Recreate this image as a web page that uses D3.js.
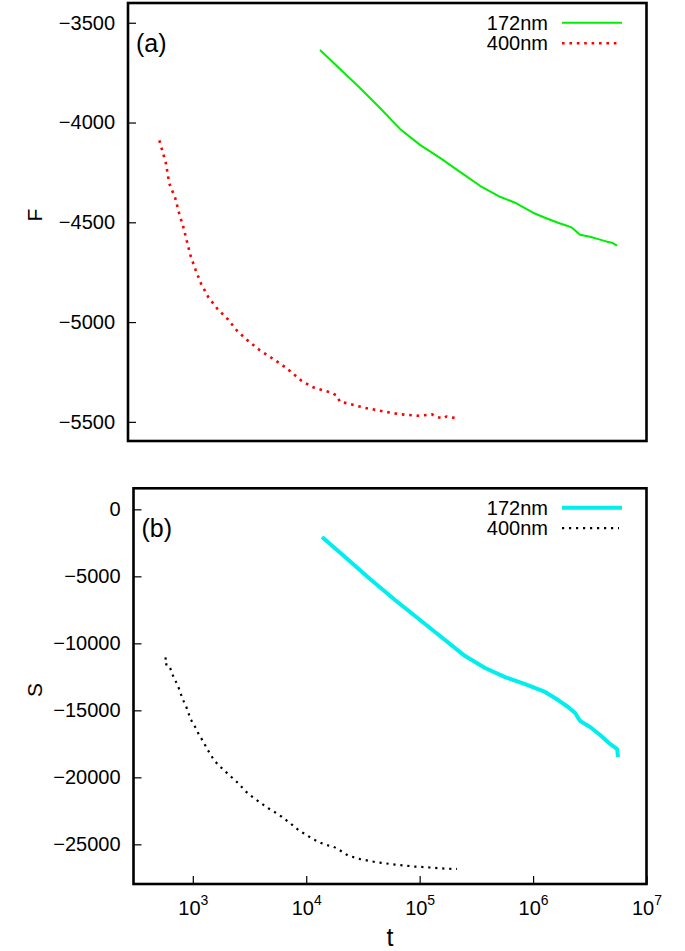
<!DOCTYPE html>
<html>
<head>
<meta charset="utf-8">
<script src="https://cdn.jsdelivr.net/npm/d3@7"></script>
<style>
  body { margin: 0; background: #fff; }
  text { font-family: "Liberation Sans", Arial, Helvetica, sans-serif; fill: #000; }
</style>
</head>
<body>
<div id="chart"></div>
<script>
// ---- data ----
// (a) free energy F
var tF172 = [14190, 21210, 31680, 47350, 70750, 105700, 158000, 236100, 352800, 527400,
             712800, 1023000, 1302000, 1690000, 2025000, 2239000, 2630000, 3215000, 3930000,
             4522000, 5000000, 5530000];
var F172 = [-3637, -3732, -3827, -3927, -4032, -4112, -4177, -4247, -4317, -4372,
            -4402, -4452, -4477, -4502, -4517, -4527, -4562, -4572, -4587,
            -4597, -4602, -4617];

var tF400 = [563, 640, 688, 776, 836, 911, 981, 1057, 1169, 1300, 1505, 1804, 2236, 2695,
             3361, 4251, 5487, 7024, 9824, 12330, 17340, 19840, 21210, 25050, 33860, 50600,
             70750, 105700, 133800, 147900, 168900, 180800, 221000];
var F400 = [-4090, -4200, -4306, -4380, -4453, -4523, -4597, -4670, -4740, -4807, -4875,
            -4933, -4987, -5045, -5095, -5142, -5183, -5225, -5295, -5327, -5352, -5367,
            -5400, -5408, -5428, -5448, -5462, -5470, -5462, -5475, -5483, -5473, -5482];

// (b) S
var tS172 = [13785, 21990, 36520, 60700, 100800, 167500, 251500, 377400, 566500, 850100,
             1276000, 1662000, 2036000, 2346000, 2597000, 3181000, 3898000, 4775000,
             5506000, 5618000];
var S172 = [-2067, -3560, -5202, -6769, -8262, -9754, -10950, -11840, -12520, -13040,
            -13630, -14230, -14750, -15200, -15800, -16240, -16840, -17510, -17890, -18490];

var tS400 = [577, 569, 617, 683, 736, 815, 871, 958, 1046, 1118, 1213, 1308, 1398, 1538,
             1702, 1885, 2086, 2357, 2608, 2886, 3240, 3660, 4134, 4633, 5308, 6081, 6813,
             7695, 8696, 9759, 11180, 12790, 14860, 16990, 19190, 23510, 29820, 40440,
             60700, 91100, 123500, 167500, 213700];
var S400 = [-11045, -11545, -11620, -12610, -13110, -14180, -14680, -15670, -16220, -16720,
            -17220, -17720, -18160, -18710, -19130, -19460, -19830, -20200, -20580, -21000,
            -21370, -21700, -22020, -22310, -22610, -22940, -23260, -23610, -23990, -24230,
            -24550, -24810, -25050, -25130, -25370, -25850, -26100, -26320, -26510, -26660,
            -26730, -26810, -26840];

var seriesNames = ["172nm", "400nm"];
var xTicks = [1e3, 1e4, 1e5, 1e6, 1e7];
var fTicks = [-3500, -4000, -4500, -5000, -5500];
var sTicks = [0, -5000, -10000, -15000, -20000, -25000];

// ---- layout ----
var w = 685, h = 951;
var svg = d3.select("#chart").append("svg")
    .attr("width", w).attr("height", h);

function fmtMinus(v) { return v < 0 ? "\u2212" + Math.abs(v) : String(v); }

function zip(xs, ys) { return xs.map(function(x, i){ return [x, ys[i]]; }); }

function panel(opt) {
    var x = d3.scaleLog().domain([300, 1e7]).range([opt.left, opt.right]);
    var y = d3.scaleLinear().domain(opt.ydom).range([opt.bottom, opt.top]);
    var g = svg.append("g");

    // y axis, ticks pointing in
    var ya = g.append("g")
        .attr("transform", "translate(" + opt.left + ",0)")
        .call(d3.axisLeft(y).tickValues(opt.yticks).tickSize(-8).tickPadding(13)
              .tickFormat(fmtMinus));
    ya.select(".domain").remove();
    ya.selectAll(".tick line").attr("stroke", "#000").attr("stroke-width", 1.2);
    ya.selectAll("text").style("font-size", "20px");

    if (opt.xlabels) {
        var xa = g.append("g")
            .attr("transform", "translate(0," + opt.bottom + ")")
            .call(d3.axisBottom(x).tickValues(xTicks).tickSize(-8).tickFormat(""));
        xa.select(".domain").remove();
        xa.selectAll(".tick line").attr("stroke", "#000").attr("stroke-width", 1.2);
        xa.selectAll(".tick").append("text")
            .attr("y", 31)
            .attr("text-anchor", "middle")
            .style("font-size", "20px")
            .each(function(d) {
                var t = d3.select(this);
                t.append("tspan").text("10");
                t.append("tspan").attr("dy", -10).style("font-size", "14px")
                    .text(Math.round(Math.log10(d)));
            });
    }

    var line = d3.line().x(function(d){ return x(d[0]); }).y(function(d){ return y(d[1]); });

    opt.series.forEach(function(s) {
        g.append("path")
            .datum(zip(s.t, s.v))
            .attr("fill", "none")
            .attr("stroke", s.color)
            .attr("stroke-width", s.width)
            .attr("stroke-dasharray", s.dash || null)
            .attr("stroke-linejoin", "round")
            .attr("d", line);
    });

    // legend
    opt.series.forEach(function(s, i) {
        var ly = opt.top + opt.legY + i * 20.5;
        g.append("text")
            .attr("x", 548).attr("y", ly + 7)
            .attr("text-anchor", "end")
            .style("font-size", "20px")
            .text(seriesNames[i]);
        g.append("line")
            .attr("x1", 562).attr("x2", s.dash ? 619 : 622)
            .attr("y1", ly).attr("y2", ly)
            .attr("stroke", s.color)
            .attr("stroke-width", s.width)
            .attr("stroke-dasharray", s.dash || null);
    });

    g.append("text")
        .attr("x", opt.left + 8).attr("y", opt.top + 49)
        .style("font-size", "25px")
        .text(opt.tag);

    g.append("rect")
        .attr("x", opt.left).attr("y", opt.top)
        .attr("width", opt.right - opt.left).attr("height", opt.bottom - opt.top)
        .attr("fill", "none").attr("stroke", "#000").attr("stroke-width", 2.6);

    g.append("text")
        .attr("transform", "translate(42," + opt.ylabY + ") rotate(-90)")
        .attr("text-anchor", "middle")
        .style("font-size", "21px")
        .text(opt.ylabel);
}

panel({
    left: 128, right: 646.5, top: 3, bottom: 441,
    ydom: [-5596, -3401], yticks: fTicks, xlabels: false,
    tag: "(a)", ylabel: "F", ylabY: 215, legY: 19.7,
    series: [
        { t: tF172, v: F172, color: "#00ee00", width: 2 },
        { t: tF400, v: F400, color: "#ff0000", width: 2.6, dash: "2.6,4.8" }
    ]
});

panel({
    left: 133.5, right: 646.5, top: 488.3, bottom: 884,
    ydom: [-27960, 1570], yticks: sTicks, xlabels: true,
    tag: "(b)", ylabel: "S", ylabY: 690, legY: 19.4,
    series: [
        { t: tS172, v: S172, color: "#00eeee", width: 4 },
        { t: tS400, v: S400, color: "#000000", width: 2.2, dash: "2.2,4.8" }
    ]
});

svg.append("text")
    .attr("x", 390).attr("y", 946)
    .attr("text-anchor", "middle")
    .style("font-size", "25px")
    .text("t");
</script>
</body>
</html>
